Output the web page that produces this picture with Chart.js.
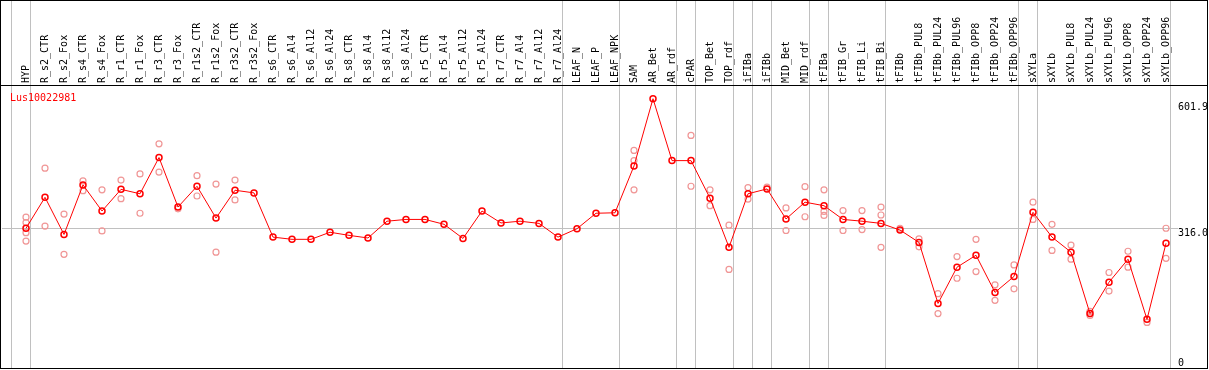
<!DOCTYPE html>
<html><head><meta charset="utf-8">
<script src="https://cdn.jsdelivr.net/npm/chart.js@4"></script>
<style>html,body{margin:0;padding:0;background:#fff;} canvas{display:block;}</style>
</head><body>
<canvas id="c" width="1209" height="370"></canvas>
<script>
const categories = ['HYP','R_s2_CTR','R_s2_Fox','R_s4_CTR','R_s4_Fox','R_r1_CTR','R_r1_Fox','R_r3_CTR','R_r3_Fox','R_r1s2_CTR','R_r1s2_Fox','R_r3s2_CTR','R_r3s2_Fox','R_s6_CTR','R_s6_Al4','R_s6_Al12','R_s6_Al24','R_s8_CTR','R_s8_Al4','R_s8_Al12','R_s8_Al24','R_r5_CTR','R_r5_Al4','R_r5_Al12','R_r5_Al24','R_r7_CTR','R_r7_Al4','R_r7_Al12','R_r7_Al24','LEAF_N','LEAF_P','LEAF_NPK','SAM','AR_Bet','AR_rdf','cPAR','TOP_Bet','TOP_rdf','iFIBa','iFIBb','MID_Bet','MID_rdf','tFIBa','tFIB_Gr','tFIB_Li','tFIB_Bi','tFIBb','tFIBb_PUL8','tFIBb_PUL24','tFIBb_PUL96','tFIBb_OPP8','tFIBb_OPP24','tFIBb_OPP96','sXYLa','sXYLb','sXYLb_PUL8','sXYLb_PUL24','sXYLb_PUL96','sXYLb_OPP8','sXYLb_OPP24','sXYLb_OPP96'];

const meanValues = [316,386,302,414,355,404,394,476,364,411,339,402,396,296,291,291,307,300,294,332,336,336,325,293,355,328,332,327,296,315,350,351,457,609,469,469,384,273,394,405,337,375,367,336,332,327,312,284,146,228,255,171,207,352,296,262,123,194,246,110,282];

const replicateValues = [
  [341,329,306,287],[452,321],[348,257],[423,401],[403,310],[425,383],[439,350],[507,443],[360],[435,389],[416,262],[425,380],[],
  [],[],[],[],[],[],[],[],[],[],[],[],[],[],[],[],
  [],[],[],
  [492,469,403],[],[],[526,411],[403,367],[323,223],[408,382],[409],[362,311],[410,342],[403,354,345],[356,311],[356,313],[364,346,273],[316],
  [292,274],[168,123],[252,203],[291,218],[188,153],[233,179],
  [375,336],[325,266],[278,246],[128,119],[216,174],[264,228],[103],[316,248]
];

const groupBreaks = [-1,0,28,31,34,35,37,38,39,41,42,45,52,53,60];
const yTickValues = [0, 316.0, 601.9];
const yTickLabels = ['0', '316.0', '601.9'];
const geneName = 'Lus10022981';

const FONT = '"DejaVu Sans Mono", "Liberation Mono", monospace';
const GRAY = '#c0c0c0';

const meanPoints = meanValues.map((v, i) => ({x: i, y: v}));
const repPoints = [];
replicateValues.forEach((arr, i) => arr.forEach(v => repPoints.push({x: i, y: v})));

const framePlugin = {
  id: 'frame',
  beforeDatasetsDraw(chart) {
    const {ctx, chartArea, scales: {x, y}} = chart;
    ctx.save();
    ctx.strokeStyle = GRAY;
    ctx.lineWidth = 1;
    const yy = Math.round(y.getPixelForValue(yTickValues[1])) + 0.5;
    ctx.beginPath(); ctx.moveTo(chartArea.left, yy); ctx.lineTo(chartArea.right + 8, yy); ctx.stroke();
    const step = x.getPixelForValue(1) - x.getPixelForValue(0);
    groupBreaks.forEach(b => {
      const px = Math.round(x.getPixelForValue(b) + step * 0.24) - 0.5;
      ctx.beginPath(); ctx.moveTo(px, 0); ctx.lineTo(px, chartArea.bottom); ctx.stroke();
    });
    ctx.restore();
  },
  afterDraw(chart) {
    const {ctx, chartArea, scales: {y}} = chart;
    ctx.save();
    ctx.fillStyle = '#000';
    ctx.fillRect(0, 0, 1208, 1);
    ctx.fillRect(0, 85, 1208, 1);
    ctx.fillRect(0, 368, 1208, 1);
    ctx.fillRect(0, 0, 1, 369);
    ctx.fillRect(1207, 0, 1, 369);
    ctx.font = '10px ' + FONT;
    ctx.textBaseline = 'alphabetic';
    ctx.textAlign = 'left';
    yTickValues.forEach((v, k) => {
      let py = Math.round(y.getPixelForValue(v)) + 8;
      if (py > chartArea.bottom - 2) py = chartArea.bottom - 2;
      ctx.fillText(yTickLabels[k], chartArea.right + 8, py);
    });
    ctx.fillStyle = '#ff0000';
    ctx.fillText(geneName, 10, 101);
    ctx.restore();
  }
};

new Chart(document.getElementById('c'), {
  type: 'scatter',
  data: {
    datasets: [
      {
        label: geneName,
        data: meanPoints,
        showLine: true,
        borderColor: '#ff0000',
        borderWidth: 1,
        pointRadius: 3,
        pointBorderWidth: 1.5,
        pointBorderColor: '#ff0000',
        pointBackgroundColor: 'rgba(0,0,0,0)',
        order: 0
      },
      {
        label: 'replicates',
        data: repPoints,
        showLine: false,
        pointRadius: 3,
        pointBorderWidth: 1.2,
        pointBorderColor: 'rgb(240,150,150)',
        pointBackgroundColor: 'rgba(0,0,0,0)',
        order: 1
      }
    ]
  },
  options: {
    responsive: false,
    animation: false,
    devicePixelRatio: 1,
    layout: {autoPadding: false, padding: {left: 2, right: 0, top: 0, bottom: 2}},
    plugins: {legend: {display: false}, tooltip: {enabled: false}},
    scales: {
      x: {
        type: 'linear',
        position: 'top',
        min: -24 / 19,
        max: 1144 / 19,
        grid: {display: false, drawTicks: false},
        border: {display: false},
        afterBuildTicks: s => { s.ticks = categories.map((_, i) => ({value: i})); },
        afterFit: s => { s.height = 85; s.paddingLeft = 0; s.paddingRight = 0; },
        ticks: {
          autoSkip: false,
          minRotation: 90,
          maxRotation: 90,
          padding: 2,
          labelOffset: 12,
          color: '#000',
          font: {family: FONT, size: 10},
          callback: v => categories[Math.round(v)] ?? ''
        }
      },
      y: {
        type: 'linear',
        position: 'right',
        min: 0,
        max: 640,
        grid: {display: false, drawTicks: false},
        border: {display: false},
        ticks: {display: false},
        afterFit: s => { s.width = 39; s.paddingTop = 0; s.paddingBottom = 0; }
      }
    }
  },
  plugins: [framePlugin]
});
</script>
</body></html>
